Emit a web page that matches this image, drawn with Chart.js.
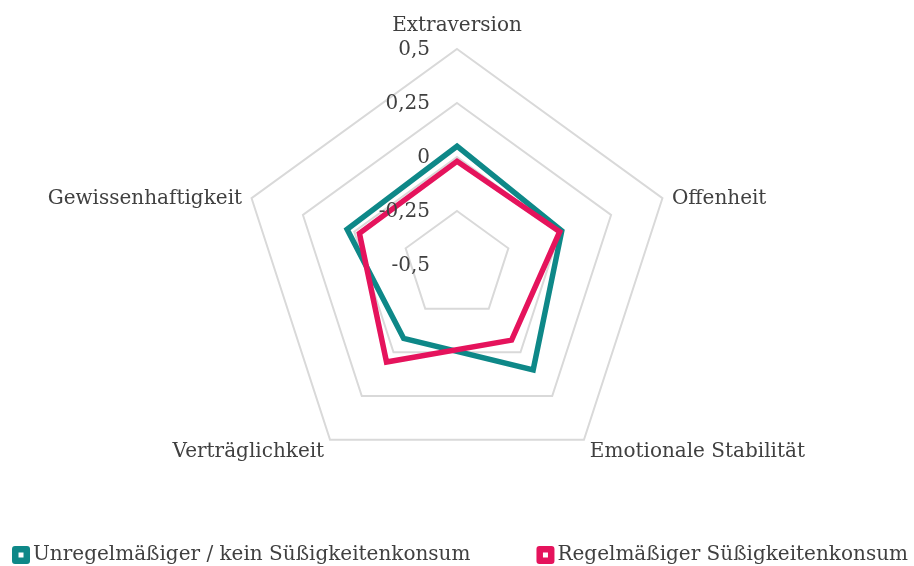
<!DOCTYPE html>
<html>
<head>
<meta charset="utf-8">
<script src="https://cdn.jsdelivr.net/npm/chart.js@4"></script>
<style>
  html, body { margin: 0; padding: 0; background: #ffffff; }
  #wrap { width: 914px; height: 566px; }
</style>
</head>
<body>
<div id="wrap"><canvas id="c" width="914" height="566"></canvas></div>
<script>
const categories = ['Extraversion', 'Offenheit', 'Emotionale Stabilität', 'Verträglichkeit', 'Gewissenhaftigkeit'];
const seriesNames = ['Unregelmäßiger / kein Süßigkeitenkonsum', 'Regelmäßiger Süßigkeitenkonsum'];
const seriesIrregular = [0.05, 0.01, 0.10, -0.08, 0.035];
const seriesRegular = [-0.02, 0.0, -0.07, 0.055, -0.025];
const tickValues = [-0.5, -0.25, 0, 0.25, 0.5];
const tickLabels = ['-0,5', '-0,25', '0', '0,25', '0,5'];

const TEAL = '#0E8888';
const PINK = '#E5135C';
const TEXT = '#404040';
const FONT = '"DejaVu Serif", "Liberation Serif", serif';

const textPlugin = {
  id: 'textPlugin',
  afterDatasetsDraw(chart) {
    const ctx = chart.ctx;
    const r = chart.scales.r;
    ctx.save();
    ctx.font = '20px ' + FONT;
    ctx.fillStyle = TEXT;
    ctx.textAlign = 'right';
    ctx.textBaseline = 'middle';
    tickValues.forEach((v, i) => {
      const d = r.getDistanceFromCenterForValue(v);
      ctx.fillText(tickLabels[i], r.xCenter - 27, r.yCenter - d + 1);
    });
    ctx.restore();
  },
  afterDraw(chart) {
    const ctx = chart.ctx;
    const r = chart.scales.r;
    ctx.save();
    ctx.font = '20px ' + FONT;
    ctx.fillStyle = TEXT;
    ctx.textBaseline = 'alphabetic';
    chart.data.labels.forEach((lab, i) => {
      const p = r.getPointPosition(i, r.drawingArea + 10);
      if (Math.abs(p.x - r.xCenter) < 1) {
        ctx.textAlign = 'center';
        ctx.fillText(lab, p.x, p.y - 8);
      } else {
        ctx.textAlign = p.x > r.xCenter ? 'left' : 'right';
        ctx.fillText(lab, p.x, p.y + 9);
      }
    });
    const sets = chart.data.datasets;
    const order = [0, 1];
    const box = 18, gapText = 3, gap = 66;
    const widths = order.map(i => ctx.measureText(sets[i].label).width);
    const total = widths.reduce((a, w) => a + box + gapText + w, 0) + gap;
    let x = (chart.width - total) / 2 + 3;
    const yMid = 555;
    ctx.textAlign = 'left';
    ctx.textBaseline = 'middle';
    order.forEach((i, k) => {
      const col = sets[i].borderColor;
      ctx.fillStyle = col;
      ctx.beginPath();
      ctx.roundRect(x, yMid - box / 2, box, box, 3);
      ctx.fill();
      ctx.fillStyle = '#ffffff';
      ctx.fillRect(x + box / 2 - 2.5, yMid - 2.5, 5, 5);
      ctx.fillStyle = TEXT;
      ctx.fillText(sets[i].label, x + box + gapText, yMid);
      x += box + gapText + widths[k] + gap;
    });
    ctx.restore();
  }
};

new Chart(document.getElementById('c'), {
  type: 'radar',
  data: {
    labels: categories,
    datasets: [
      {
        label: seriesNames[0], data: seriesIrregular,
        borderColor: TEAL, backgroundColor: TEAL, borderWidth: 5.5,
        pointRadius: 0, pointHoverRadius: 0, fill: false, tension: 0,
        borderJoinStyle: 'miter', order: 1
      },
      {
        label: seriesNames[1], data: seriesRegular,
        borderColor: PINK, backgroundColor: PINK, borderWidth: 5.5,
        pointRadius: 0, pointHoverRadius: 0, fill: false, tension: 0,
        borderJoinStyle: 'miter', order: 0
      }
    ]
  },
  options: {
    responsive: false,
    animation: false,
    layout: { padding: { top: 49, bottom: 85, left: 0, right: 0 } },
    plugins: { legend: { display: false }, tooltip: { enabled: false } },
    scales: {
      r: {
        min: -0.5, max: 0.5,
        ticks: { stepSize: 0.25, display: false },
        grid: { color: '#D9D9D9', lineWidth: 2 },
        angleLines: { display: false },
        pointLabels: { display: false }
      }
    }
  },
  plugins: [textPlugin]
});
</script>
</body>
</html>
